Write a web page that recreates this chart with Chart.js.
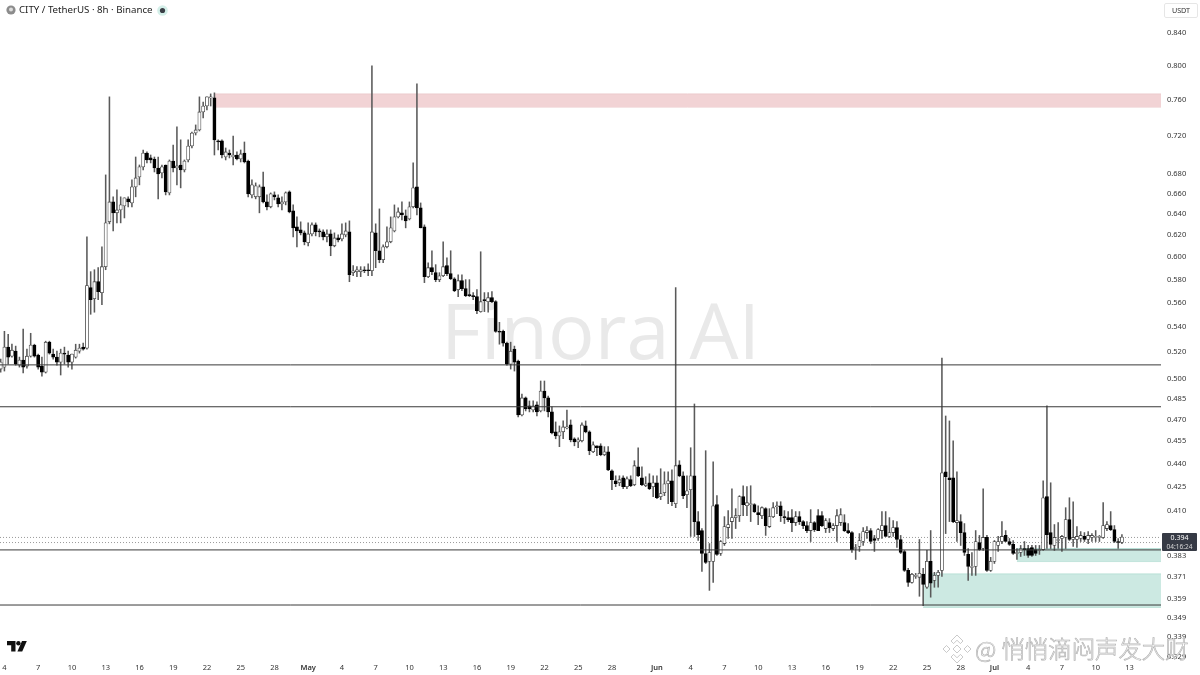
<!DOCTYPE html>
<html><head><meta charset="utf-8">
<style>
html,body{margin:0;padding:0;background:#fff;width:1200px;height:675px;overflow:hidden;font-family:"Noto Sans",sans-serif}
#wrap{position:relative;width:1200px;height:675px}
canvas{position:absolute;left:0;top:0;z-index:2}
.t{position:absolute;white-space:nowrap}
#mark{left:441px;top:280px;font:400 77.5px/1 "Open Sans",sans-serif;color:#e9e9e9;z-index:1;padding-top:11px}
#title{left:19px;top:3px;font-size:9.7px;line-height:14px;color:#222;z-index:3}
#usdt{left:1164px;top:3px;width:32px;height:13px;border:1px solid #e6e6e6;border-radius:2px;font-size:7.2px;line-height:13px;text-align:center;color:#333;z-index:3;box-sizing:content-box}
#badge{left:1162px;top:533px;width:35px;height:18px;background:#363a45;border-radius:1px;color:#fff;text-align:center;z-index:3;font-size:7px;line-height:9px}
#badge span{display:block;color:#d8d8d8;font-size:6.5px}
#cn{left:975px;top:632px;font:300 23.4px/32px "Noto Sans CJK SC",sans-serif;color:#fff;-webkit-text-stroke:.7px #b4b4b4;z-index:3}
svg{position:absolute;z-index:3}
</style></head><body>
<div id="wrap">
<div class="t" id="mark">Finora AI</div>
<canvas id="c" width="1200" height="675"></canvas>
<svg style="left:6px;top:5px" width="10" height="10" viewBox="0 0 10 10"><circle cx="5" cy="5" r="4.6" fill="#8c8c8c"/><circle cx="5" cy="4.4" r="2" fill="#ddd"/></svg>
<div class="t" id="title">CITY / TetherUS · 8h · Binance</div>
<svg style="left:157px;top:5px" width="11" height="11" viewBox="0 0 11 11"><circle cx="5.5" cy="5.5" r="5.3" fill="#d4efe9"/><circle cx="5.5" cy="5.5" r="2.6" fill="#3b3f46"/></svg>
<div class="t" id="usdt">USDT</div>
<div class="t" id="badge">0.394<span>04:16:24</span></div>
<svg style="left:7px;top:641px" width="20" height="11" viewBox="0 0 20 11"><path d="M0 0h8.5v10.5H4.2V4.2H0z" fill="#111"/><circle cx="11.4" cy="2.2" r="2.2" fill="#111"/><path d="M15 0h4.8l-4.6 10.5H10.4z" fill="#111"/></svg>
<svg style="left:942px;top:634px" width="30" height="30" viewBox="0 0 30 30" fill="#fff" stroke="#bdbdbd" stroke-width=".8"><path d="M15 1l6 6-2.6 2.6L15 6.200l-3.400 3.400L9 7z"/><path d="M15 29l6-6-2.600-2.600L15 23.800l-3.400-3.400L9 23z"/><path d="M1 15l3.500-3.500L8 15l-3.500 3.500z"/><path d="M22 15l3.500-3.500L29 15l-3.500 3.500z"/><path d="M15 11l4 4-4 4-4-4z"/></svg>
<div class="t" id="cn">@ 悄悄滴闷声发大财</div>
</div>
<script src="https://cdn.jsdelivr.net/npm/chart.js@4/dist/chart.umd.js"></script>
<script>
// 8h candles, first one is the 3 April 16:00 bar (index -1)
const opens=[
.5071,.5086,.5241,.5170,.5209,.5101,.5140,.5094,.5170,.5257,
.5178,.5094,.5048,.5280,.5186,.5163,.5124,.5194,.5178,.5124,
.5163,.5209,.5241,.5233,.5731,.5637,.5782,.5688,.5914,.6326,
.6518,.6412,.6440,.6479,.6548,.6508,.6667,.6767,.6870,.7015,
.6963,.6952,.6859,.6808,.6890,.6607,.6931,.6859,.6890,.6839,
.6942,.7089,.7229,.7262,.7461,.7528,.7620,.7620,.7143,.7143,
.6973,.7015,.6973,.6994,.6952,.7015,.6931,.6587,.6568,.6568,
.6667,.6518,.6470,.6587,.6558,.6499,.6518,.6617,.6431,.6278,
.6250,.6222,.6130,.6212,.6297,.6240,.6231,.6185,.6212,.6102,
.6175,.6166,.6203,.6231,.5861,.5870,.5870,.5887,.5887,.5878,
.6222,.6057,.5976,.6093,.6139,.6240,.6373,.6412,.6383,.6354,
.6470,.6667,.6460,.6278,.5826,.5905,.5861,.5800,.5834,.5923,
.5852,.5808,.5713,.5791,.5722,.5671,.5662,.5654,.5528,.5628,
.5611,.5645,.5611,.5367,.5367,.5272,.5109,.5225,.5132,.4733,
.4856,.4798,.4769,.4805,.4762,.4907,.4856,.4755,.4615,.4587,
.4615,.4642,.4663,.4567,.4546,.4553,.4656,.4615,.4479,.4519,
.4519,.4459,.4479,.4353,.4288,.4275,.4307,.4250,.4295,.4263,
.4379,.4307,.4256,.4275,.4250,.4275,.4187,.4212,.4269,.4288,
.4143,.4392,.4320,.4199,.4231,.4320,.4033,.3979,.3844,.3799,
.3799,.4137,.3844,.3902,.3997,.4033,.4057,.4069,.4187,.4130,
.4137,.4137,.4088,.4069,.4112,.4003,.4063,.4124,.4130,.4063,
.4057,.4057,.4027,.4063,.4033,.4009,.3979,.4027,.4069,.4069,
.3991,.4027,.3991,.4009,.4027,.4027,.3979,.3967,.3873,.3885,
.3914,.3967,.3979,.3932,.3932,.3979,.4009,.3944,.3967,.3997,
.3926,.3856,.3748,.3681,.3714,.3709,.3726,.3654,.3799,.3692,
.3720,.3748,.4346,.4307,.4307,.4027,.4033,.3967,.3839,.3765,
.3770,.3908,.3873,.3938,.3748,.3799,.3891,.3914,.3950,.3914,
.3897,.3844,.3850,.3873,.3873,.3879,.3867,.3862,.3867,.4187,
.3967,.3891,.3920,.3932,.3938,.4045,.3926,.3926,.3932,.3944,
.3926,.3938,.3938,.3938,.3938,.3991,.4009,.3985,.3914,.3908];
const highs=[
.5147,.5367,.5343,.5264,.5249,.5163,.5384,.5225,.5351,.5264,
.5186,.5163,.5288,.5288,.5225,.5209,.5225,.5241,.5209,.5186,
.5264,.5264,.5272,.6185,.5870,.5887,.5905,.6093,.6788,.7632,
.6568,.6637,.6568,.6558,.6568,.6737,.6973,.6890,.7047,.7026,
.6994,.6973,.6973,.6890,.6890,.6942,.7100,.7295,.7155,.6942,
.7155,.7240,.7317,.7632,.7573,.7632,.7666,.7678,.7155,.7155,
.7068,.7047,.7196,.7026,.7047,.7132,.6942,.6737,.6707,.6687,
.6818,.6587,.6607,.6617,.6587,.6568,.6617,.6627,.6489,.6373,
.6326,.6240,.6316,.6316,.6316,.6259,.6250,.6250,.6250,.6222,
.6203,.6307,.6316,.6335,.5923,.5914,.5914,.5914,.5940,.7995,
.6307,.6450,.6111,.6278,.6373,.6489,.6460,.6518,.6440,.6518,
.6911,.7784,.6508,.6297,.5949,.6057,.5932,.5861,.6139,.5994,
.6057,.5817,.5843,.5843,.5800,.5800,.5688,.5713,.6048,.5688,
.5688,.5696,.5620,.5440,.5376,.5280,.5280,.5249,.5140,.4884,
.4863,.4834,.4834,.4827,.4981,.4981,.4870,.4791,.4684,.4656,
.4691,.4769,.4698,.4574,.4574,.4677,.4691,.4622,.4546,.4519,
.4533,.4513,.4513,.4359,.4320,.4320,.4320,.4314,.4320,.4419,
.4506,.4379,.4314,.4333,.4320,.4320,.4366,.4346,.4346,.4359,
.5731,.4419,.4346,.4320,.4506,.4812,.4094,.3991,.4486,.3902,
.4412,.4193,.3920,.4063,.4100,.4237,.4112,.4193,.4256,.4250,
.4256,.4143,.4130,.4124,.4118,.4112,.4149,.4155,.4155,.4100,
.4094,.4106,.4094,.4094,.4039,.4033,.4106,.4033,.4106,.4094,
.4051,.4051,.4021,.4106,.4112,.4075,.4021,.3973,.3897,.3961,
.3997,.4003,.3991,.3950,.3991,.4094,.4094,.4057,.4039,.4033,
.3950,.3862,.3759,.3731,.3731,.3926,.3759,.3862,.3979,.3737,
.3748,.5155,.4726,.4691,.4553,.4346,.4075,.4021,.3873,.3850,
.3979,.3950,.4237,.3950,.3822,.3920,.3944,.4033,.3979,.3932,
.3920,.3873,.3891,.3914,.3891,.3891,.3891,.3891,.4288,.4798,
.4275,.4015,.4027,.3950,.4118,.4180,.4155,.4003,.3973,.3967,
.3973,.3961,.3979,.3950,.4149,.4033,.4094,.4009,.3932,.3955];
const lows=[
.5048,.5056,.5109,.5163,.5101,.5086,.5041,.5078,.5163,.5163,
.5071,.5018,.5041,.5186,.5147,.5101,.5026,.5109,.5086,.5071,
.5155,.5194,.5217,.5225,.5506,.5523,.5628,.5586,.5887,.6307,
.6240,.6316,.6316,.6363,.6470,.6470,.6568,.6687,.6839,.6911,
.6911,.6818,.6548,.6757,.6587,.6587,.6818,.6687,.6657,.6818,
.6921,.7068,.7207,.7251,.7394,.7483,.7528,.6994,.7047,.6963,
.6942,.6963,.6890,.6942,.6921,.6911,.6568,.6558,.6548,.6412,
.6508,.6440,.6460,.6538,.6470,.6440,.6489,.6412,.6185,.6093,
.6203,.6111,.6102,.6194,.6194,.6185,.6157,.6139,.6012,.6093,
.6139,.6148,.6185,.5782,.5834,.5826,.5826,.5861,.5834,.5834,
.5905,.5949,.5949,.6084,.6130,.6231,.6363,.6344,.6269,.6344,
.6460,.6392,.6269,.5774,.5817,.5843,.5782,.5782,.5826,.5834,
.5800,.5696,.5654,.5705,.5654,.5654,.5628,.5511,.5523,.5528,
.5523,.5603,.5359,.5264,.5249,.5101,.5071,.5056,.4719,.4726,
.4762,.4755,.4755,.4726,.4755,.4762,.4719,.4601,.4567,.4513,
.4567,.4635,.4546,.4519,.4506,.4546,.4608,.4459,.4473,.4452,
.4452,.4452,.4353,.4231,.4250,.4256,.4237,.4237,.4250,.4256,
.4314,.4256,.4250,.4231,.4187,.4174,.4168,.4193,.4143,.4130,
.4118,.4314,.4174,.4118,.3944,.3944,.3920,.3742,.3787,.3637,
.3681,.3833,.3833,.3891,.3932,.3932,.3991,.4033,.4069,.4069,
.4033,.4088,.4015,.4051,.3950,.3997,.4057,.4081,.4033,.4021,
.4033,.3973,.4009,.4015,.3991,.3967,.3914,.3973,.3979,.4003,
.3967,.3967,.3979,.3914,.4009,.3973,.3961,.3850,.3810,.3856,
.3891,.3932,.3902,.3856,.3920,.3932,.3944,.3938,.3944,.3879,
.3844,.3742,.3659,.3676,.3703,.3605,.3554,.3648,.3600,.3654,
.3654,.3714,.3961,.4033,.4027,.3914,.3891,.3833,.3692,.3720,
.3720,.3862,.3862,.3742,.3742,.3787,.3856,.3902,.3914,.3891,
.3839,.3810,.3827,.3833,.3822,.3827,.3833,.3839,.3862,.3873,
.3873,.3862,.3873,.3856,.3873,.3920,.3885,.3879,.3914,.3914,
.3902,.3914,.3914,.3914,.3932,.3979,.3979,.3908,.3873,.3902];
const closes=[
.5124,.5241,.5163,.5217,.5109,.5140,.5086,.5170,.5257,.5170,
.5086,.5048,.5280,.5194,.5163,.5124,.5194,.5186,.5124,.5186,
.5217,.5233,.5225,.5748,.5628,.5782,.5696,.5914,.6316,.6518,
.6412,.6440,.6489,.6558,.6518,.6667,.6757,.6870,.7015,.6942,
.6942,.6859,.6798,.6870,.6617,.6931,.6859,.6880,.6839,.6931,
.7089,.7229,.7262,.7461,.7528,.7632,.7632,.7155,.7132,.6994,
.7026,.6994,.6994,.6952,.7005,.6921,.6597,.6687,.6677,.6667,
.6518,.6470,.6597,.6568,.6499,.6518,.6607,.6421,.6269,.6240,
.6222,.6139,.6212,.6297,.6231,.6231,.6185,.6212,.6102,.6175,
.6157,.6212,.6240,.5843,.5878,.5887,.5887,.5878,.5878,.6231,
.6057,.5976,.6093,.6139,.6269,.6373,.6421,.6392,.6335,.6470,
.6657,.6460,.6269,.5826,.5905,.5870,.5800,.5834,.5914,.5852,
.5808,.5705,.5791,.5722,.5662,.5662,.5654,.5536,.5611,.5620,
.5645,.5611,.5367,.5359,.5272,.5109,.5209,.5124,.4733,.4856,
.4776,.4776,.4798,.4755,.4907,.4856,.4755,.4608,.4587,.4615,
.4649,.4649,.4560,.4546,.4560,.4663,.4615,.4486,.4526,.4506,
.4459,.4479,.4359,.4295,.4269,.4295,.4250,.4301,.4256,.4386,
.4320,.4263,.4269,.4237,.4275,.4180,.4206,.4269,.4288,.4155,
.4386,.4320,.4193,.4224,.4320,.4033,.3955,.3844,.3793,.3850,
.4130,.3839,.3914,.4003,.4015,.4057,.4069,.4187,.4137,.4149,
.4143,.4094,.4075,.4118,.4009,.4063,.4118,.4130,.4069,.4057,
.4045,.4027,.4063,.4033,.4009,.3979,.4027,.3985,.3979,.4009,
.4039,.3997,.4009,.4069,.4075,.3979,.3967,.3867,.3879,.3920,
.3973,.3979,.3914,.3920,.3985,.4009,.3944,.3967,.3997,.3926,
.3850,.3748,.3681,.3726,.3720,.3731,.3670,.3799,.3676,.3720,
.3737,.4340,.4314,.4295,.4033,.4039,.3967,.3850,.3770,.3770,
.3914,.3867,.3938,.3748,.3799,.3914,.3914,.3944,.3914,.3897,
.3844,.3850,.3873,.3867,.3833,.3833,.3844,.3867,.4180,.3955,
.3897,.3938,.3926,.3944,.4045,.3926,.3938,.3944,.3950,.3926,
.3950,.3950,.3944,.3944,.4009,.4015,.3985,.3914,.3908,.3940];

const priceTicks=[.84,.8,.76,.72,.68,.66,.64,.62,.6,.58,.56,.54,.52,.5,.485,.47,.455,.44,.425,.41,.383,.371,.359,.349,.339,.329];
const dateTickCandles=[0,9,18,27,36,45,54,63,72,81,90,99,108,117,126,135,144,153,162,174,183,192,201,210,219,228,237,246,255,264,273,282,291,300];
const dateTickLabels=['4','7','10','13','16','19','22','25','28','May','4','7','10','13','16','19','22','25','28','Jun','4','7','10','13','16','19','22','25','28','Jul','4','7','10','13'];
const monthLabels=['May','Jun','Jul'];

const levelLines=[.5103,.4792,.3865,.3558];
const priceLines=[.3938,.3908];
const zoneStarts=[56,270,245];
const zoneTops=[.7665,.3873,.3728];
const zoneBottoms=[.7516,.3798,.3545];
const zoneFills=['#f2d3d5','#cce9e2','#cce9e2'];
const zoneEdges=['#eccbcd','#b9e0d7','#b9e0d7'];

const xMin=-1.18, xMax=308.42, yTop=.8827, yBottom=.3276;
const X=opens.map((_,k)=>k-1);
const isUp=opens.map((o,k)=>closes[k]>=o);

const wickData=X.map((x,k)=>({x,y:[lows[k],highs[k]]}));
const bodyData=X.map((x,k)=>({x,y:[Math.min(opens[k],closes[k]),Math.max(opens[k],closes[k])]}));

const lineSets=[];
levelLines.forEach(v=>lineSets.push({type:'line',data:[{x:xMin,y:v},{x:xMax,y:v}],borderColor:'#3a3a3a',borderWidth:1,pointRadius:0,order:0,fill:false}));
priceLines.forEach(v=>lineSets.push({type:'line',data:[{x:xMin,y:v},{x:xMax,y:v}],borderColor:'#9a9a9a',borderWidth:1,borderDash:[1,2],pointRadius:0,order:5,fill:false}));
const zoneSets=[];
zoneStarts.forEach((s,k)=>{
  zoneSets.push({type:'line',data:[{x:s,y:zoneTops[k]},{x:xMax,y:zoneTops[k]}],borderColor:zoneEdges[k],borderWidth:1,pointRadius:0,order:6,fill:'+1',backgroundColor:zoneFills[k]});
  zoneSets.push({type:'line',data:[{x:s,y:zoneBottoms[k]},{x:xMax,y:zoneBottoms[k]}],borderColor:zoneEdges[k],borderWidth:1,pointRadius:0,order:6,fill:false});
});

function noPad(s){s.paddingLeft=0;s.paddingRight=0;s.paddingTop=0;s.paddingBottom=0;}
new Chart(document.getElementById('c'),{
  type:'bar',
  data:{datasets:[
    {label:'Body',data:bodyData,grouped:false,barPercentage:1,categoryPercentage:1,maxBarThickness:3.2,
     backgroundColor:isUp.map(u=>u?'#ffffff':'#000000'),borderColor:isUp.map(u=>u?'#4a4a4a':'#000000'),borderWidth:.8,borderSkipped:false,order:1},
    {label:'Wick',data:wickData,grouped:false,barPercentage:1,categoryPercentage:1,maxBarThickness:.9,
     backgroundColor:'#5a5a5a',borderWidth:0,order:2},
    ...lineSets,...zoneSets
  ]},
  options:{
    responsive:false,animation:false,devicePixelRatio:1,
    layout:{padding:0},
    plugins:{legend:{display:false},tooltip:{enabled:false}},
    scales:{
      x:{type:'linear',min:xMin,max:xMax,offset:false,
        grid:{display:false,drawTicks:false},border:{display:false},
        afterBuildTicks(s){s.ticks=dateTickCandles.map(v=>({value:v}));},
        afterFit(s){s.height=15;noPad(s);},
        ticks:{autoSkip:false,maxRotation:0,padding:3,color:'#333',
          font:c=>({family:'"Noto Sans"',size:7.5,weight:monthLabels.includes(dateTickLabels[dateTickCandles.indexOf(c.tick&&c.tick.value)])?'600':'400'}),
          callback:v=>dateTickLabels[dateTickCandles.indexOf(v)]}},
      y:{type:'logarithmic',position:'right',min:yBottom,max:yTop,
        grid:{display:false,drawTicks:false},border:{display:false},
        afterBuildTicks(s){s.ticks=priceTicks.map(v=>({value:v}));},
        afterFit(s){s.width=39;noPad(s);},
        ticks:{autoSkip:false,padding:6,color:'#333',crossAlign:'near',font:{family:'"Noto Sans"',size:7.5},callback:v=>v.toFixed(3)}}
    }
  }
});
</script>
</body></html>
